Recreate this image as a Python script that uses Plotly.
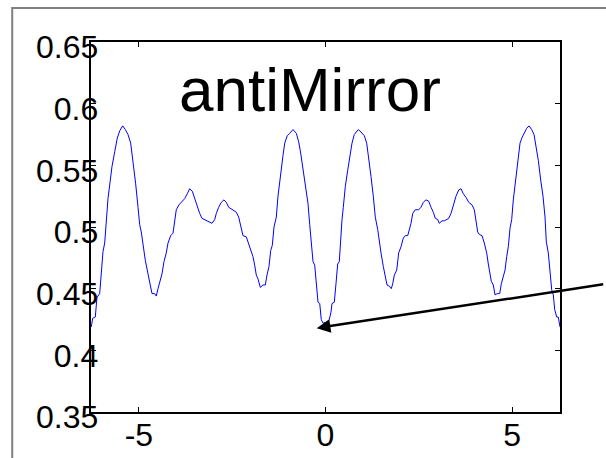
import plotly.graph_objects as go

# Sampled profile over one full span from -2*pi to 2*pi
x_vals = [
    -6.276, -6.238, -6.168, -6.123, -6.050, -6.008, -5.962, -5.916, -5.874, -5.828,
    -5.766, -5.721, -5.648, -5.579, -5.514, -5.434, -5.364, -5.292, -5.220, -5.158,
    -5.086, -5.024, -4.979, -4.936, -4.890, -4.828, -4.756, -4.695, -4.649, -4.577,
    -4.534, -4.488, -4.443, -4.381, -4.327, -4.266, -4.220,
    -4.148, -4.086, -4.041, -3.998, -3.925, -3.864, -3.773, -3.703, -3.639, -3.569,
    -3.505, -3.435, -3.371, -3.309, -3.237, -3.167, -3.103, -3.041, -2.969, -2.926,
    -2.862, -2.792, -2.720, -2.658, -2.594, -2.505, -2.390, -2.326, -2.272, -2.211,
    -2.122, -2.031,
    -1.943, -1.897, -1.854, -1.809, -1.747, -1.675, -1.613, -1.568, -1.514, -1.468,
    -1.426, -1.380, -1.318, -1.273, -1.227, -1.184, -1.139, -1.093, -1.024, -0.959,
    -0.871, -0.782, -0.718, -0.665, -0.603, -0.541, -0.469, -0.423, -0.380, -0.335,
    -0.289, -0.247, -0.201, -0.155, -0.113, -0.067,
    0.059, 0.102, 0.147, 0.174, 0.236, 0.281, 0.327, 0.370, 0.397, 0.442,
    0.477, 0.531, 0.595, 0.656, 0.710, 0.772, 0.817, 0.879, 0.951, 1.040,
    1.104, 1.158, 1.219, 1.281, 1.334, 1.399, 1.442, 1.487, 1.549, 1.602,
    1.648, 1.710, 1.763, 1.801, 1.844, 1.908, 1.961, 2.023, 2.085, 2.138, 2.203,
    2.291, 2.337, 2.406, 2.497, 2.559, 2.621, 2.693, 2.765, 2.827, 2.889,
    2.942, 3.006, 3.049, 3.122, 3.183, 3.248, 3.301, 3.363, 3.424, 3.497,
    3.569, 3.631, 3.692, 3.765, 3.837, 3.925, 3.987, 4.033, 4.078, 4.121,
    4.193, 4.255,
    4.319, 4.362, 4.408, 4.443, 4.496, 4.542, 4.603, 4.668, 4.711, 4.764,
    4.810, 4.855, 4.898, 4.944, 4.989, 5.032, 5.078, 5.123, 5.166, 5.212,
    5.273, 5.338, 5.391, 5.453, 5.525, 5.587, 5.648, 5.702, 5.766, 5.828,
    5.882, 5.916, 5.970, 6.015, 6.061, 6.104, 6.141, 6.195, 6.238, 6.283,
]
y_vals = [
    0.419, 0.426, 0.427, 0.443, 0.446, 0.465, 0.480, 0.487, 0.506, 0.523,
    0.538, 0.549, 0.561, 0.572, 0.578, 0.582, 0.579, 0.575, 0.568, 0.554,
    0.535, 0.516, 0.502, 0.496, 0.484, 0.473, 0.462, 0.454, 0.446, 0.446,
    0.444, 0.450, 0.456, 0.462, 0.472, 0.479, 0.487,
    0.493, 0.495, 0.503, 0.514, 0.518, 0.520, 0.523, 0.527, 0.531, 0.529,
    0.523, 0.518, 0.511, 0.507, 0.506, 0.505, 0.504, 0.503, 0.506, 0.511,
    0.516, 0.520, 0.522, 0.520, 0.516, 0.514, 0.512, 0.508, 0.500, 0.493,
    0.492, 0.484,
    0.476, 0.469, 0.461, 0.458, 0.451, 0.453, 0.453, 0.461, 0.468, 0.481,
    0.485, 0.500, 0.508, 0.525, 0.538, 0.548, 0.558, 0.568, 0.574, 0.576,
    0.579, 0.576, 0.569, 0.560, 0.546, 0.533, 0.519, 0.502, 0.487, 0.472,
    0.469, 0.454, 0.439, 0.438, 0.425, 0.422,
    0.423, 0.425, 0.431, 0.438, 0.439, 0.454, 0.470, 0.472, 0.487, 0.506,
    0.516, 0.533, 0.546, 0.557, 0.568, 0.575, 0.577, 0.579, 0.577, 0.574,
    0.568, 0.557, 0.541, 0.525, 0.508, 0.498, 0.487, 0.479, 0.468, 0.461,
    0.453, 0.452, 0.450, 0.454, 0.461, 0.465, 0.479, 0.484, 0.491, 0.493, 0.493,
    0.503, 0.511, 0.514, 0.514, 0.516, 0.520, 0.522, 0.521, 0.516, 0.512,
    0.507, 0.506, 0.503, 0.505, 0.505, 0.506, 0.507, 0.511, 0.518, 0.525,
    0.530, 0.531, 0.527, 0.524, 0.520, 0.518, 0.514, 0.506, 0.496, 0.494,
    0.493, 0.487,
    0.479, 0.470, 0.462, 0.456, 0.453, 0.445, 0.446, 0.446, 0.454, 0.460,
    0.465, 0.476, 0.484, 0.499, 0.506, 0.522, 0.535, 0.546, 0.557, 0.568,
    0.573, 0.577, 0.580, 0.582, 0.579, 0.575, 0.565, 0.554, 0.538, 0.525,
    0.508, 0.488, 0.479, 0.465, 0.449, 0.445, 0.433, 0.427, 0.427, 0.419,
]

x_range = [-6.2832, 6.2832]
y_range = [0.35, 0.65]
x_ticks = [-5, 0, 5]
x_tick_text = ["-5", "0", "5"]
y_ticks = [0.35, 0.4, 0.45, 0.5, 0.55, 0.6, 0.65]
y_tick_text = ["0.35", "0.4", "0.45", "0.5", "0.55", "0.6", "0.65"]

title_text = "antiMirror"
arrow_tip = (-0.236, 0.418)

FONT = "Liberation Sans, Arial, Helvetica, sans-serif"
TICK_FONT = dict(family=FONT, size=32, color="black")

fig = go.Figure()
fig.add_trace(go.Scatter(
    x=x_vals, y=y_vals, mode="lines",
    line=dict(color="#0000ff", width=1),
    showlegend=False, hoverinfo="skip",
))
# transparent copy that puts the label-only axes into play
fig.add_trace(go.Scatter(
    x=x_vals, y=y_vals, mode="lines", xaxis="x2", yaxis="y2",
    line=dict(color="rgba(0,0,0,0)", width=0), opacity=0,
    showlegend=False, hoverinfo="skip",
))

# frame axes: box with inward ticks on all four sides, no labels
frame = dict(
    showgrid=False, zeroline=False, automargin=False,
    showline=True, linecolor="black", linewidth=1.5, mirror="ticks",
    ticks="inside", ticklen=5, tickwidth=1, tickcolor="black",
    showticklabels=False, tickmode="array",
)
# label axes: numbers only, nudged in toward the frame
labels = dict(
    showgrid=False, zeroline=False, automargin=False, showline=False,
    ticks="", tickmode="array", tickfont=TICK_FONT, anchor="free",
)

fig.update_layout(
    xaxis=dict(range=x_range, tickvals=x_ticks, **frame),
    yaxis=dict(range=y_range, tickvals=y_ticks, **frame),
    xaxis2=dict(range=x_range, overlaying="x", side="bottom", position=0.0,
                tickvals=x_ticks, ticktext=x_tick_text, ticklabelstandoff=1,
                **labels),
    yaxis2=dict(range=y_range, overlaying="y", side="left", position=0.0155,
                tickvals=y_ticks, ticktext=y_tick_text, ticklabelshift=5,
                **labels),
)

# large caption inside the axes
fig.add_annotation(
    x=0.468, y=0.872, xref="paper", yref="paper",
    text=title_text, showarrow=False,
    font=dict(family=FONT, size=62, color="black"),
    xanchor="center", yanchor="middle",
)

# pointer arrow coming in from the right edge
fig.add_annotation(
    x=arrow_tip[0], y=arrow_tip[1], xref="x", yref="y",
    text="", showarrow=True,
    arrowhead=2, arrowsize=1.1, arrowwidth=2.5, arrowcolor="black",
    ax=288, ay=-44, standoff=0,
)

# outer figure frame
fig.add_shape(
    type="rect", xref="paper", yref="paper",
    x0=-0.168, x1=1.4, y0=-0.4, y1=1.092,
    line=dict(color="#808080", width=2), fillcolor="rgba(0,0,0,0)",
    layer="above",
)

fig.update_layout(
    width=606, height=458,
    margin=dict(l=91, r=46, t=42, b=46),
    paper_bgcolor="white", plot_bgcolor="white",
    font=dict(family=FONT),
)

fig.write_html("out.html")
